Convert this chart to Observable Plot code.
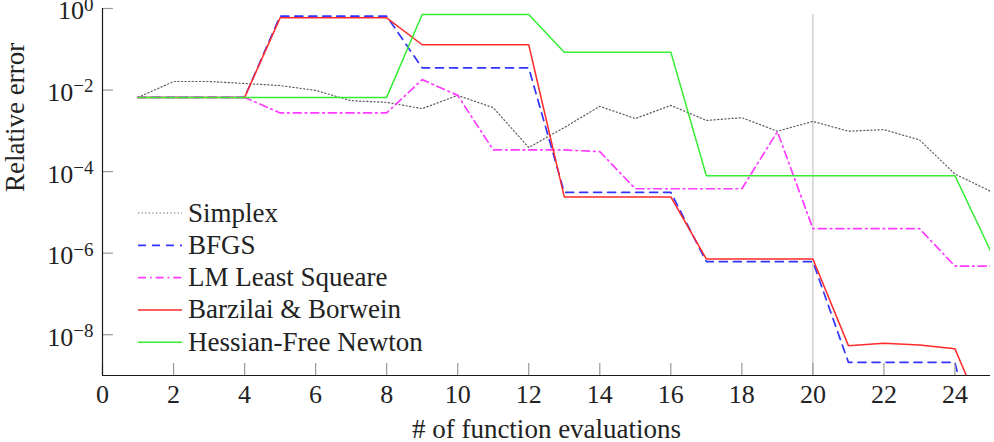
<!DOCTYPE html>
<html>
<head>
<meta charset="utf-8">
<script src="https://cdn.jsdelivr.net/npm/d3@7"></script>
<script src="https://cdn.jsdelivr.net/npm/@observablehq/plot@0.6"></script>
<style>
  html, body { margin: 0; padding: 0; background: #fff; }
  #chart { width: 994px; height: 442px; }
  svg { display: block; }
  #chart svg, #chart svg text { font-family: "Liberation Serif", "DejaVu Serif", serif; }
</style>
</head>
<body>
<div id="chart"></div>
<script>
// Number of function evaluations (x) and relative error per optimiser (y, log scale)
const evaluations = [1, 2, 3, 4, 5, 6, 7, 8, 9, 10, 11, 12, 13, 14, 15, 16, 17, 18, 19, 20, 21, 22, 23, 24, 25];

const simplex = [6.6e-3, 1.62e-2, 1.62e-2, 1.45e-2, 1.29e-2, 9.8e-3, 5.5e-3, 5.0e-3, 3.5e-3, 7.4e-3,
                 3.7e-3, 3.9e-4, 1.2e-3, 4.0e-3, 2.0e-3, 4.2e-3, 1.8e-3, 2.1e-3, 9.8e-4, 1.7e-3,
                 9.8e-4, 1.07e-3, 6.0e-4, 8.7e-5, 3.3e-5];
const bfgs = [6.6e-3, 6.6e-3, 6.6e-3, 6.6e-3, 0.65, 0.65, 0.65, 0.65, 3.5e-2, 3.5e-2,
              3.5e-2, 3.5e-2, 3.1e-5, 3.1e-5, 3.1e-5, 3.1e-5, 6.2e-7, 6.2e-7, 6.2e-7, 6.2e-7,
              2.1e-9, 2.1e-9, 2.1e-9, 2.1e-9, 5e-13];
const lmLeastSquare = [6.6e-3, 6.6e-3, 6.6e-3, 6.6e-3, 2.75e-3, 2.75e-3, 2.75e-3, 2.75e-3, 1.8e-2, 7.4e-3,
                       3.4e-4, 3.4e-4, 3.4e-4, 3.1e-4, 3.8e-5, 3.8e-5, 3.8e-5, 3.8e-5, 9.5e-4, 4.0e-6,
                       4.0e-6, 4.0e-6, 4.0e-6, 4.8e-7, 4.8e-7];
const barzilaiBorwein = [6.6e-3, 6.6e-3, 6.6e-3, 6.6e-3, 0.59, 0.59, 0.59, 0.59, 0.129, 0.129,
                         0.129, 0.129, 2.4e-5, 2.4e-5, 2.4e-5, 2.4e-5, 7.2e-7, 7.2e-7, 7.2e-7, 7.2e-7,
                         5.4e-9, 6.2e-9, 5.6e-9, 4.5e-9, 4e-11];
const hessianFree = [6.6e-3, 6.6e-3, 6.6e-3, 6.6e-3, 6.6e-3, 6.6e-3, 6.6e-3, 6.6e-3, 0.71, 0.71,
                     0.71, 0.71, 8.5e-2, 8.5e-2, 8.5e-2, 8.5e-2, 7.9e-5, 7.9e-5, 7.9e-5, 7.9e-5,
                     7.9e-5, 7.9e-5, 7.9e-5, 7.9e-5, 1.15e-6];

const seriesNames = ["Simplex", "BFGS", "LM Least Squeare", "Barzilai & Borwein", "Hessian-Free Newton"];
const seriesValues = [simplex, bfgs, lmLeastSquare, barzilaiBorwein, hessianFree];
const seriesColors = ["#5a5a5a", "#3333ff", "#ff3cff", "#ff2a2a", "#33ee33"];
const seriesDashes = ["1.2 2.4", "8 6", "8 4 1.6 4", null, null];
const seriesWidths = [1.2, 1.7, 1.7, 1.5, 1.5];

const xTicks = [0, 2, 4, 6, 8, 10, 12, 14, 16, 18, 20, 22, 24];
const yTicks = [1, 1e-2, 1e-4, 1e-6, 1e-8];
const markerEvaluation = [20];
const xLabel = "# of function evaluations";
const yLabel = "Relative error";

// Long-form table for the line marks
const rows = seriesNames.flatMap((name, s) =>
  evaluations.map((x, i) => ({series: name, x, y: seriesValues[s][i]})));

const W = 994, H = 442;
const mL = 102, mR = 4, mT = 8, mB = 67;
const plotW = W - mL - mR, plotH = H - mT - mB;
const serif = "Liberation Serif, DejaVu Serif, serif";

const lineMarks = seriesNames.map((name, s) =>
  Plot.line(rows.filter(d => d.series === name), {
    x: "x", y: "y",
    stroke: seriesColors[s],
    strokeWidth: seriesWidths[s],
    strokeDasharray: seriesDashes[s] ?? undefined,
    strokeLinejoin: "miter",
    clip: true
  }));

const chart = Plot.plot({
  width: W, height: H,
  marginLeft: mL, marginRight: mR, marginTop: mT, marginBottom: mB,
  style: {fontFamily: serif, fontSize: "26px", color: "#222", background: "#fff"},
  x: {domain: [0, 25]},
  y: {type: "log", domain: [1e-9, 1]},
  marks: [
    Plot.ruleX(markerEvaluation, {stroke: "#c8c8c8", strokeWidth: 1.3, insetTop: 6}),
    ...lineMarks,
    Plot.tickX(xTicks, {x: d => d, stroke: "#9a9a9a", strokeWidth: 1.2, insetTop: plotH - 12}),
    Plot.tickY(yTicks, {y: d => d, stroke: "#9a9a9a", strokeWidth: 1.2, insetRight: plotW - 11}),
    Plot.ruleX([0], {stroke: "#1a1a1a", strokeWidth: 1.2}),
    Plot.ruleY([1e-9], {stroke: "#1a1a1a", strokeWidth: 1.2}),
    Plot.axisX({ticks: xTicks, tickSize: 0, tickPadding: 9, label: null}),
    Plot.axisY({ticks: yTicks, tickSize: 0, tickPadding: 9, label: null,
                tickFormat: d => String(Math.round(Math.log10(d)))}),
    Plot.text([xLabel], {text: d => d, frameAnchor: "bottom", dy: 62, fontSize: 27}),
    Plot.text([yLabel], {text: d => d, frameAnchor: "left", rotate: -90, dx: -87, fontSize: 27})
  ]
});

document.getElementById("chart").appendChild(chart);

// Power-of-ten tick labels: "10" with a raised exponent
const svg = d3.select(chart);
svg.selectAll('g[aria-label="y-axis tick label"] text').each(function() {
  const exp = +this.textContent;
  const t = d3.select(this);
  t.text(null);
  t.append("tspan").attr("dy", "0.1em").text("10");
  t.append("tspan").attr("dy", "-0.45em").attr("font-size", 19)
    .text(exp < 0 ? "\u2212" + Math.abs(exp) : String(exp));
});

// Legend inside the plot area
const legend = svg.append("g")
  .attr("font-family", serif).attr("font-size", 27)
  .attr("fill", "#222").attr("text-anchor", "start");
const legendTop = 213, legendStep = 32.3;
seriesNames.forEach((name, s) => {
  const y = legendTop + s * legendStep;
  legend.append("line")
    .attr("x1", 138).attr("x2", 182).attr("y1", y).attr("y2", y)
    .attr("stroke", seriesColors[s])
    .attr("stroke-width", seriesWidths[s])
    .attr("stroke-dasharray", seriesDashes[s]);
  legend.append("text").attr("x", 188).attr("y", y + 8.5).text(name);
});
</script>
</body>
</html>
